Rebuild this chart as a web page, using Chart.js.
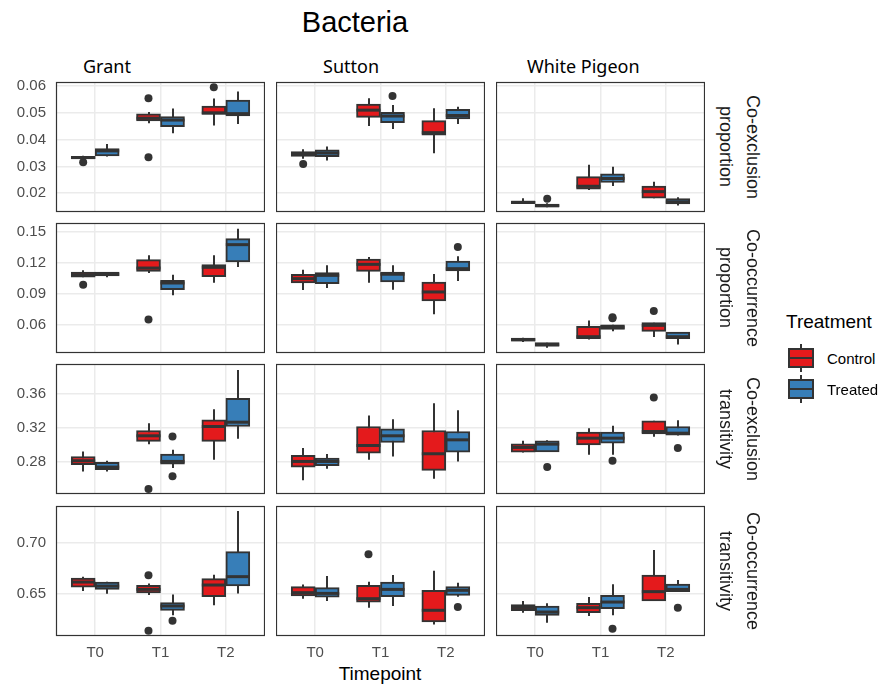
<!DOCTYPE html>
<html>
<head>
<meta charset="utf-8">
<title>Bacteria</title>
<script src="https://cdn.jsdelivr.net/npm/chart.js@4.4.1/dist/chart.umd.min.js"></script>
<style>
  html, body { margin: 0; padding: 0; background: #fff; }
  #page { position: relative; width: 880px; height: 686px; font-family: 'Liberation Sans', Arial, sans-serif; color: #000; }
  #page canvas { position: absolute; }
  .title { position: absolute; left: 255px; top: 4px; width: 200px; text-align: center; font-size: 29px; line-height: 36px; }
  .site { position: absolute; top: 54px; font-family: 'Noto Sans', sans-serif; font-size: 18px; line-height: 24px; }
  .strip { position: absolute; left: 712px; width: 54px; height: 130px; writing-mode: vertical-rl; text-align: center; font-size: 18px; line-height: 27px; color: #1a1a1a; }
  .xtitle { position: absolute; left: 280px; top: 662px; width: 200px; text-align: center; font-size: 19px; line-height: 24px; }
  .legend-title { position: absolute; left: 786px; top: 310px; font-size: 19px; line-height: 24px; }
  .legend-item { position: absolute; left: 788px; height: 32px; display: flex; align-items: center; font-size: 15px; }
  .legend-item svg { margin-right: 13px; }
</style>
</head>
<body>
<div id="page">
  <div class="title">Bacteria</div>
  <div class="site" style="left:83px">Grant</div>
  <div class="site" style="left:323px">Sutton</div>
  <div class="site" style="left:527px">White Pigeon</div>
  <div class="xtitle">Timepoint</div>
  <div class="legend-title">Treatment</div>
</div>
<script>
const timepoints = ['T0', 'T1', 'T2'];
const treatments = ['Control', 'Treated'];
const treatmentColors = ['#E41A1C', '#377EB8'];
const metricLabels = [
  ['Co-exclusion', 'proportion'],
  ['Co-occurrence', 'proportion'],
  ['Co-exclusion', 'transitivity'],
  ['Co-occurrence', 'transitivity'],
];

// [min, q1, median, q3, max]; order: Grant T0-T2, Sutton T0-T2, White Pigeon T0-T2
const exclPropControl = [
  [0.0327, 0.0329, 0.0333, 0.0338, 0.0340], [0.0461, 0.0470, 0.0480, 0.0496, 0.0503], [0.0453, 0.0494, 0.0500, 0.0525, 0.0553],
  [0.0329, 0.0337, 0.0345, 0.0355, 0.0364], [0.0451, 0.0483, 0.0510, 0.0533, 0.0554], [0.0349, 0.0417, 0.0426, 0.0471, 0.0517],
  [0.0160, 0.0161, 0.0166, 0.0171, 0.0181], [0.0212, 0.0215, 0.0226, 0.0262, 0.0306], [0.0181, 0.0182, 0.0206, 0.0227, 0.0243],
];
const exclPropTreated = [
  [0.0337, 0.0339, 0.0358, 0.0367, 0.0384], [0.0424, 0.0448, 0.0473, 0.0486, 0.0516], [0.0458, 0.0488, 0.0497, 0.0548, 0.0580],
  [0.0322, 0.0336, 0.0350, 0.0362, 0.0374], [0.0440, 0.0463, 0.0488, 0.0502, 0.0529], [0.0458, 0.0477, 0.0490, 0.0513, 0.0523],
  [0.0148, 0.0150, 0.0153, 0.0160, 0.0163], [0.0227, 0.0240, 0.0255, 0.0272, 0.0299], [0.0154, 0.0160, 0.0168, 0.0180, 0.0185],
];
const exclPropControlOut = [[0.0316], [0.0554, 0.0334], [0.0595], [0.0309], [], [], [], [], []];
const exclPropTreatedOut = [[], [], [], [], [0.0563], [], [0.0179], [], []];

const coocPropControl = [
  [0.1060, 0.1062, 0.1085, 0.1112, 0.1128], [0.1102, 0.1118, 0.1150, 0.1231, 0.1273], [0.1008, 0.1066, 0.1157, 0.1183, 0.1273],
  [0.0937, 0.1005, 0.1047, 0.1089, 0.1134], [0.1008, 0.1118, 0.1186, 0.1238, 0.1257], [0.0701, 0.0830, 0.0918, 0.1015, 0.1092],
  [0.0432, 0.0440, 0.0455, 0.0470, 0.0474], [0.0458, 0.0464, 0.0484, 0.0584, 0.0642], [0.0481, 0.0536, 0.0594, 0.0620, 0.0620],
];
const coocPropTreated = [
  [0.1060, 0.1073, 0.1090, 0.1112, 0.1112], [0.0885, 0.0940, 0.1005, 0.1031, 0.1086], [0.1160, 0.1209, 0.1377, 0.1435, 0.1532],
  [0.0956, 0.0998, 0.1079, 0.1105, 0.1176], [0.0940, 0.1015, 0.1090, 0.1112, 0.1176], [0.1024, 0.1121, 0.1144, 0.1218, 0.1264],
  [0.0377, 0.0393, 0.0405, 0.0426, 0.0426], [0.0536, 0.0555, 0.0575, 0.0600, 0.0600], [0.0409, 0.0464, 0.0484, 0.0529, 0.0529],
];
const coocPropControlOut = [[0.0989], [0.0652], [], [], [], [], [], [], [0.0733]];
const coocPropTreatedOut = [[], [], [], [], [], [0.1354], [], [0.0672, 0.0662], []];

const exclTransControl = [
  [0.2682, 0.2761, 0.2808, 0.2859, 0.2918], [0.3005, 0.3037, 0.3104, 0.3167, 0.3253], [0.2820, 0.3037, 0.3214, 0.3293, 0.3419],
  [0.2576, 0.2733, 0.2800, 0.2871, 0.2958], [0.2820, 0.2899, 0.2989, 0.3214, 0.3344], [0.2595, 0.2694, 0.2891, 0.3167, 0.3490],
  [0.2907, 0.2909, 0.2966, 0.3009, 0.3044], [0.2879, 0.2997, 0.3076, 0.3147, 0.3194], [0.3092, 0.3127, 0.3155, 0.3281, 0.3281],
];
const exclTransTreated = [
  [0.2682, 0.2702, 0.2733, 0.2788, 0.2808], [0.2721, 0.2769, 0.2800, 0.2887, 0.2938], [0.3068, 0.3214, 0.3265, 0.3549, 0.3884],
  [0.2713, 0.2749, 0.2800, 0.2840, 0.2887], [0.2859, 0.3025, 0.3104, 0.3186, 0.3301], [0.2800, 0.2911, 0.3056, 0.3155, 0.3407],
  [0.2911, 0.2913, 0.3005, 0.3044, 0.3050], [0.2879, 0.3017, 0.3076, 0.3147, 0.3222], [0.3108, 0.3110, 0.3135, 0.3214, 0.3289],
];
const exclTransControlOut = [[], [0.2473], [], [], [], [], [], [], [0.3557]];
const exclTransTreatedOut = [[], [0.3096, 0.2623], [], [], [], [], [0.2733], [0.2808], [0.2958]];

const coocTransControl = [
  [0.6526, 0.6565, 0.6614, 0.6654, 0.6667], [0.6487, 0.6507, 0.6542, 0.6582, 0.6601], [0.6386, 0.6471, 0.6585, 0.6647, 0.6686],
  [0.6451, 0.6477, 0.6510, 0.6569, 0.6591], [0.6363, 0.6418, 0.6451, 0.6582, 0.6618], [0.6199, 0.6222, 0.6337, 0.6533, 0.6725],
  [0.6314, 0.6333, 0.6365, 0.6392, 0.6428], [0.6281, 0.6314, 0.6363, 0.6405, 0.6467], [0.6428, 0.6430, 0.6520, 0.6683, 0.6928],
];
const coocTransTreated = [
  [0.6500, 0.6542, 0.6575, 0.6614, 0.6616], [0.6288, 0.6337, 0.6379, 0.6412, 0.6493], [0.6503, 0.6575, 0.6667, 0.6912, 0.7310],
  [0.6428, 0.6467, 0.6503, 0.6559, 0.6673], [0.6379, 0.6471, 0.6542, 0.6614, 0.6683], [0.6470, 0.6484, 0.6533, 0.6569, 0.6608],
  [0.6216, 0.6288, 0.6320, 0.6379, 0.6405], [0.6288, 0.6353, 0.6418, 0.6484, 0.6592], [0.6520, 0.6521, 0.6542, 0.6595, 0.6634],
];
const coocTransControlOut = [[], [0.6680, 0.6137], [], [], [0.6886], [], [], [], []];
const coocTransTreatedOut = [[], [0.6235], [], [], [], [0.6369], [], [0.6157], [0.6363]];

const yLimits = [[0.0130, 0.0615], [0.0326, 0.1587], [0.2414, 0.3955], [0.6085, 0.7360]];
const yTickValues = [
  [0.02, 0.03, 0.04, 0.05, 0.06],
  [0.06, 0.09, 0.12, 0.15],
  [0.28, 0.32, 0.36],
  [0.65, 0.70],
];

const boxRows = [
  [exclPropControl, exclPropTreated],
  [coocPropControl, coocPropTreated],
  [exclTransControl, exclTransTreated],
  [coocTransControl, coocTransTreated],
];
const outlierRows = [
  [exclPropControlOut, exclPropTreatedOut],
  [coocPropControlOut, coocPropTreatedOut],
  [exclTransControlOut, exclTransTreatedOut],
  [coocTransControlOut, coocTransTreatedOut],
];

const panelLefts = [56, 276, 496];
const panelTops = [82, 223, 364, 506];
const panelWidth = 209;
const panelHeight = 130;
const boxWidth = 24;
const dodge = 0.184;
const ink = '#333333';

Chart.defaults.font.family = "'Liberation Sans', Arial, sans-serif";
Chart.defaults.font.size = 15;
Chart.defaults.color = '#4d4d4d';

// whiskers under the boxes, medians and the panel frame on top
const boxplotParts = {
  id: 'boxplotParts',
  beforeDatasetsDraw(chart) {
    const { ctx, scales: { y } } = chart;
    ctx.save();
    ctx.strokeStyle = ink;
    ctx.lineWidth = 2;
    chart.data.datasets.forEach((ds, di) => {
      if (!ds.stats) return;
      const bars = chart.getDatasetMeta(di).data;
      ds.stats.forEach((s, i) => {
        const px = Math.round(bars[i].x);
        ctx.beginPath();
        ctx.moveTo(px, y.getPixelForValue(s[0]));
        ctx.lineTo(px, y.getPixelForValue(s[4]));
        ctx.stroke();
      });
    });
    ctx.restore();
  },
  afterDatasetsDraw(chart) {
    const { ctx, chartArea, scales: { y } } = chart;
    ctx.save();
    ctx.strokeStyle = ink;
    ctx.lineWidth = 3;
    chart.data.datasets.forEach((ds, di) => {
      if (!ds.stats) return;
      const bars = chart.getDatasetMeta(di).data;
      ds.stats.forEach((s, i) => {
        const bar = bars[i];
        const py = y.getPixelForValue(s[2]);
        ctx.beginPath();
        ctx.moveTo(bar.x - bar.width / 2, py);
        ctx.lineTo(bar.x + bar.width / 2, py);
        ctx.stroke();
      });
    });
    ctx.lineWidth = 1.2;
    ctx.strokeRect(chartArea.left + 0.5, chartArea.top + 0.5, chartArea.width - 1, chartArea.height - 1);
    ctx.restore();
  },
};

function zeroPadding(scale) {
  scale.paddingTop = 0;
  scale.paddingBottom = 0;
  scale.paddingLeft = 0;
  scale.paddingRight = 0;
}

function makePanel(row, col) {
  const axisW = col === 0 ? 56 : 0;
  const axisH = row === 3 ? 30 : 0;
  const padTop = 10;
  const padBottom = row === 3 ? 0 : 10;

  const canvas = document.createElement('canvas');
  canvas.width = axisW + panelWidth;
  canvas.height = padTop + panelHeight + axisH + padBottom;
  canvas.style.left = (panelLefts[col] - axisW) + 'px';
  canvas.style.top = (panelTops[row] - padTop) + 'px';
  document.getElementById('page').appendChild(canvas);

  const datasets = [];
  const points = [];
  treatments.forEach((name, ti) => {
    const stats = boxRows[row][ti].slice(col * 3, col * 3 + 3);
    const outs = outlierRows[row][ti].slice(col * 3, col * 3 + 3);
    datasets.push({
      type: 'bar',
      label: name,
      data: stats.map((s, i) => ({ x: i + 1, y: [s[1], s[3]] })),
      stats,
      backgroundColor: treatmentColors[ti],
      borderColor: ink,
      borderWidth: 2,
      borderSkipped: false,
      barThickness: boxWidth,
      order: 1,
    });
    outs.forEach((vals, i) => {
      vals.forEach((v) => points.push({ x: i + 1 + (ti === 0 ? -dodge : dodge), y: v }));
    });
  });
  datasets.push({
    type: 'scatter',
    label: 'outliers',
    data: points,
    pointRadius: 4,
    pointBackgroundColor: ink,
    pointBorderWidth: 0,
    order: 0,
  });

  return new Chart(canvas, {
    type: 'bar',
    data: { datasets },
    options: {
      responsive: false,
      devicePixelRatio: 1,
      animation: false,
      events: [],
      layout: { autoPadding: false, padding: { top: padTop, bottom: padBottom, left: 0, right: 0 } },
      plugins: { legend: { display: false }, tooltip: { enabled: false } },
      scales: {
        x: {
          type: 'linear',
          offset: false,
          min: 0.4,
          max: 3.6,
          afterBuildTicks(scale) { scale.ticks = timepoints.map((t, i) => ({ value: i + 1 })); },
          afterFit(scale) { scale.height = axisH; zeroPadding(scale); },
          ticks: { display: row === 3, padding: 8, callback: (v) => timepoints[v - 1] },
          grid: { offset: false, color: '#ebebeb', lineWidth: 1.5, drawTicks: false },
          border: { display: false },
        },
        y: {
          type: 'linear',
          min: yLimits[row][0],
          max: yLimits[row][1],
          afterBuildTicks(scale) { scale.ticks = yTickValues[row].map((v) => ({ value: v })); },
          afterFit(scale) { scale.width = axisW; zeroPadding(scale); },
          ticks: { display: col === 0, padding: 10, callback: (v) => v.toFixed(2) },
          grid: { color: '#ebebeb', lineWidth: 1.5, drawTicks: false },
          border: { display: false },
        },
      },
    },
    plugins: [boxplotParts],
  });
}

const page = document.getElementById('page');

metricLabels.forEach((lines, row) => {
  for (let col = 0; col < 3; col++) makePanel(row, col);
  const strip = document.createElement('div');
  strip.className = 'strip';
  strip.style.top = panelTops[row] + 'px';
  strip.innerHTML = lines.join('<br>');
  page.appendChild(strip);
});

treatments.forEach((name, ti) => {
  const item = document.createElement('div');
  item.className = 'legend-item';
  item.style.top = (342 + ti * 31) + 'px';
  item.innerHTML = `
    <svg width="26" height="30" viewBox="0 0 26 30">
      <line x1="13" y1="1" x2="13" y2="29" stroke="${ink}" stroke-width="2"/>
      <rect x="1" y="6" width="24" height="18" fill="${treatmentColors[ti]}" stroke="${ink}" stroke-width="2"/>
      <line x1="1" y1="15" x2="25" y2="15" stroke="${ink}" stroke-width="2"/>
    </svg>${name}`;
  page.appendChild(item);
});
</script>
</body>
</html>
